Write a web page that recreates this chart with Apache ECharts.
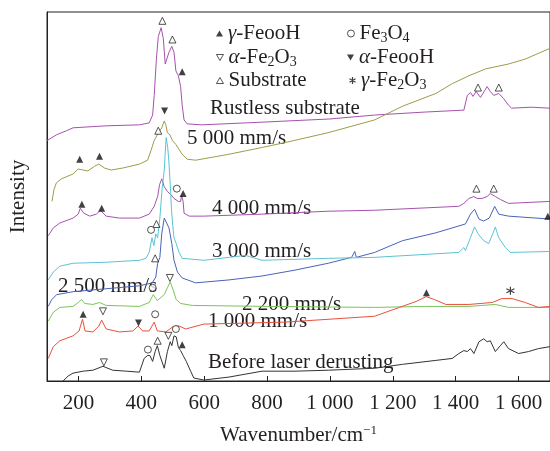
<!DOCTYPE html>
<html>
<head>
<meta charset="utf-8">
<script src="https://cdn.jsdelivr.net/npm/echarts@6/dist/echarts.min.js"></script>
<style>
html,body{margin:0;padding:0;background:#fff;}
#chart{width:550px;height:451px;}
</style>
</head>
<body>
<div id="chart"></div>
<script>
// Wavenumber (cm^-1), intensity (offset, arbitrary units)
const rustless = [[100,245],[131,251],[162,255],[183,258],[288,260],[394,261],[425,263],[436,271],[441,291],[448,328],[454,351],[463,360],[470,349],[476,323],[481,321],[488,335],[497,341],[504,335],[510,316],[518,311],[525,300],[530,281],[536,266],[546,262],[593,261],[800,264],[1000,267],[1142,271],[1300,274],[1426,276],[1437,291],[1447,294],[1455,290],[1465,295],[1479,289],[1500,300],[1510,295],[1521,291],[1537,293],[1552,288],[1568,281],[1578,278],[1640,279],[1700,278]];
const s5000 = [[116,183],[122,195],[130,202],[146,206],[183,211],[199,216],[204,218],[215,215],[230,214],[252,219],[265,221],[283,217],[304,215],[341,217],[394,221],[420,225],[431,235],[441,245],[451,251],[459,255],[465,258],[473,265],[478,261],[483,253],[491,251],[499,245],[510,241],[520,236],[530,231],[546,226],[573,225],[678,231],[785,238],[858,243],[994,253],[1142,266],[1231,280],[1337,293],[1389,303],[1442,311],[1495,318],[1568,323],[1621,328],[1700,339]];
const s4000 = [[104,148],[120,156],[141,161],[183,166],[199,170],[206,176],[217,171],[236,168],[257,170],[270,174],[288,168],[330,166],[394,166],[425,170],[441,178],[452,188],[458,200],[465,206],[473,198],[483,193],[494,190],[504,186],[518,183],[525,183],[528,189],[533,183],[536,171],[552,168],[599,168],[784,170],[994,173],[1142,174],[1410,178],[1426,181],[1442,186],[1458,188],[1468,186],[1484,186],[1500,188],[1510,191],[1526,188],[1542,185],[1568,181],[1700,183]];
const s3000 = [[104,103],[120,111],[141,117],[183,120],[288,121],[394,123],[415,125],[425,131],[434,146],[440,138],[446,150],[452,146],[459,166],[466,195],[473,215],[479,248],[484,238],[488,222],[492,200],[496,175],[500,158],[504,146],[511,140],[520,131],[530,125],[599,123],[679,126],[731,128],[784,123],[995,125],[1142,126],[1410,131],[1426,136],[1431,133],[1447,146],[1460,157],[1471,150],[1489,143],[1505,140],[1518,150],[1526,157],[1537,146],[1558,136],[1574,131],[1700,132]];
const s2500 = [[104,76],[115,83],[131,88],[183,91],[288,94],[394,97],[435,100],[446,106],[452,120],[459,126],[465,150],[473,166],[478,167],[488,156],[497,140],[504,123],[515,111],[530,105],[573,100],[679,103],[784,107],[889,113],[995,120],[1069,126],[1079,132],[1084,126],[1142,131],[1231,143],[1337,151],[1431,160],[1447,170],[1460,175],[1474,165],[1489,163],[1507,166],[1524,178],[1537,170],[1568,168],[1700,165]];
const s2200 = [[104,61],[120,70],[141,75],[183,76],[199,80],[210,83],[220,79],[246,78],[267,80],[288,77],[394,76],[425,80],[438,88],[451,82],[473,88],[483,95],[492,101],[501,93],[511,83],[525,79],[562,77],[800,76],[1142,75],[1300,76],[1442,76],[1526,78],[1568,75],[1700,75]];
const s1000 = [[104,23],[120,35],[141,41],[183,46],[202,51],[213,63],[221,51],[246,50],[265,56],[274,62],[288,53],[330,50],[373,51],[390,56],[404,51],[425,51],[441,60],[451,51],[478,50],[499,55],[520,56],[541,53],[599,58],[858,60],[1142,66],[1221,75],[1274,81],[1306,86],[1332,83],[1369,78],[1442,78],[1516,80],[1547,84],[1579,84],[1621,80],[1663,75],[1700,76]];
const before = [[151,0],[167,5],[183,8],[215,10],[246,11],[278,15],[309,11],[352,10],[394,9],[409,23],[420,26],[427,26],[436,20],[444,30],[451,36],[459,26],[473,13],[483,30],[492,40],[497,36],[504,46],[511,45],[518,34],[525,31],[533,26],[543,20],[557,10],[567,3],[599,1],[679,4],[784,10],[889,10],[995,11],[1142,13],[1231,17],[1337,21],[1389,23],[1410,28],[1426,31],[1437,30],[1447,33],[1458,28],[1474,40],[1489,43],[1500,40],[1510,41],[1526,30],[1542,36],[1553,40],[1568,33],[1600,28],[1632,30],[1663,33],[1700,35]];

// Peak markers
const gammaFeOOH = [[530,315],[204,226],[267,229],[211,180],[274,176],[533,191],[215,68],[1307,90],[530,37],[1693,168]];
const alphaFe2O3 = [[278,71],[491,105],[281,19],[486,46]];
const substrate = [[467,367],[499,348],[1471,299],[1537,299],[454,255],[1466,196],[1521,196],[448,160],[444,125],[452,41]];
const fe3o4 = [[513,196],[431,154],[436,95],[444,68],[421,32],[510,53]];
const alphaFeOOH = [[474,275],[391,59]];
const gammaFe2O3 = [[1574,92]];

const xTicks = [200,400,600,800,1000,1200,1400,1600];
const curveLabels = [
  ['Rustless substrate', 210, 108],
  ['5 000 mm/s', 187, 138],
  ['4 000 mm/s', 212, 208],
  ['3 000 mm/s', 212, 251],
  ['2 500 mm/s', 58, 286],
  ['2 200 mm/s', 242, 304],
  ['1 000 mm/s', 208, 321],
  ['Before laser derusting', 208, 362]
];

const FONT = '"Liberation Serif", "Times New Roman", serif';
const FS = 21;
const TXT = '#231f20';
const TRI_DOWN = 'path://M0,0 L10,0 L5,8.66 Z';
const TRI_UP = 'path://M5,0 L10,8.66 L0,8.66 Z';
const ASTERISK = 'path://M5,0 L5,10 M0.7,2.5 L9.3,7.5 M0.7,7.5 L9.3,2.5';
const FILLED = {color: '#111', borderWidth: 0};
const OPEN = {color: '#fff', borderColor: '#111', borderWidth: 0.9};
const STAR = {color: 'none', borderColor: '#111', borderWidth: 1.2};

function lineSeries(name, data, color) {
  return {name: name, type: 'line', data: data, showSymbol: false, symbol: 'none',
    lineStyle: {color: color, width: 1}, itemStyle: {color: color}, silent: true, z: 2};
}
function markSeries(name, data, symbol, style, size) {
  return {name: name, type: 'scatter', data: data, symbol: symbol, symbolSize: size || 7,
    z: 5, silent: true, itemStyle: style};
}
const legendMap = {
  'γ-FeooH': '{i|γ}-FeooH',
  'α-Fe2O3': '{i|α}-Fe{s|2}O{s|3}',
  'Substrate': 'Substrate',
  'Fe3O4': 'Fe{s|3}O{s|4}',
  'α-FeooH': '{i|α}-FeooH',
  'γ-Fe2O3': '{i|γ}-Fe{s|2}O{s|3}'
};
const legendPos = [
  ['γ-FeooH',216,23,TRI_UP,FILLED],['α-Fe2O3',216,47,TRI_DOWN,OPEN],['Substrate',216,70,TRI_UP,OPEN],
  ['Fe3O4',347,23,'circle',OPEN],['α-FeooH',347,47,TRI_DOWN,FILLED],['γ-Fe2O3',347,70,ASTERISK,STAR]];

const chart = echarts.init(document.getElementById('chart'), null, {renderer: 'canvas'});
chart.setOption({
  animation: false,
  backgroundColor: '#fff',
  grid: {left: 45, right: -2, top: 12, bottom: 63, show: true, borderColor: '#222', borderWidth: 1},
  xAxis: {
    type: 'value', min: 100, max: 1700,
    name: 'Wavenumber/cm{sup|−1}', nameLocation: 'middle', nameGap: 43,
    nameTextStyle: {fontFamily: FONT, fontSize: FS, color: TXT,
      rich: {sup: {fontFamily: FONT, fontSize: 13, color: TXT, padding: [0,0,10,0]}}},
    axisLine: {show: true, lineStyle: {color: '#222', width: 1}},
    axisTick: {show: true, inside: true, length: 5, customValues: xTicks, lineStyle: {color: '#222'}},
    axisLabel: {customValues: xTicks, margin: 12, fontFamily: FONT, fontSize: FS, color: TXT,
      formatter: function (v) { return v >= 1000 ? Math.floor(v/1000) + ' ' + String(v % 1000).padStart(3,'0') : String(v); }},
    splitLine: {show: false}
  },
  yAxis: {
    type: 'value', min: 0, max: 376,
    name: 'Intensity', nameLocation: 'middle', nameGap: 18, nameRotate: 90,
    nameTextStyle: {fontFamily: FONT, fontSize: FS, color: TXT},
    axisLine: {show: true, lineStyle: {color: '#222'}},
    axisTick: {show: false}, axisLabel: {show: false}, splitLine: {show: false}
  },
  legend: legendPos.map(function (p) {
    return {data: [{name: p[0], icon: p[3], itemStyle: p[4]}], left: p[1], top: p[2], orient: 'vertical', selectedMode: false,
      itemWidth: 7, itemHeight: 7, padding: 0,
      formatter: function (n) { return legendMap[n]; },
      textStyle: {fontFamily: FONT, fontSize: FS, color: TXT,
        rich: {i: {fontFamily: FONT, fontSize: FS, fontStyle: 'italic', color: TXT},
               s: {fontFamily: FONT, fontSize: 14, color: TXT, padding: [9,0,0,0]}}}};
  }),
  graphic: curveLabels.map(function (l) {
    return {type: 'text', x: l[1], y: l[2], silent: true,
      style: {text: l[0], font: FS + 'px ' + FONT, fill: TXT, verticalAlign: 'middle', align: 'left'}};
  }),
  series: [
    lineSeries('Rustless substrate', rustless, '#a552ad'),
    lineSeries('5 000 mm/s', s5000, '#9e9b4c'),
    lineSeries('4 000 mm/s', s4000, '#a552ad'),
    lineSeries('2 500 mm/s', s2500, '#4a63b6'),
    lineSeries('3 000 mm/s', s3000, '#5cc3d3'),
    lineSeries('2 200 mm/s', s2200, '#7cc25c'),
    lineSeries('1 000 mm/s', s1000, '#e8513c'),
    lineSeries('Before laser derusting', before, '#333333'),
    markSeries('γ-FeooH', gammaFeOOH, TRI_UP, FILLED),
    markSeries('α-Fe2O3', alphaFe2O3, TRI_DOWN, OPEN),
    markSeries('Substrate', substrate, TRI_UP, OPEN),
    markSeries('Fe3O4', fe3o4, 'circle', OPEN),
    markSeries('α-FeooH', alphaFeOOH, TRI_DOWN, FILLED),
    markSeries('γ-Fe2O3', gammaFe2O3, ASTERISK, STAR, 8)
  ]
});
</script>
</body>
</html>
